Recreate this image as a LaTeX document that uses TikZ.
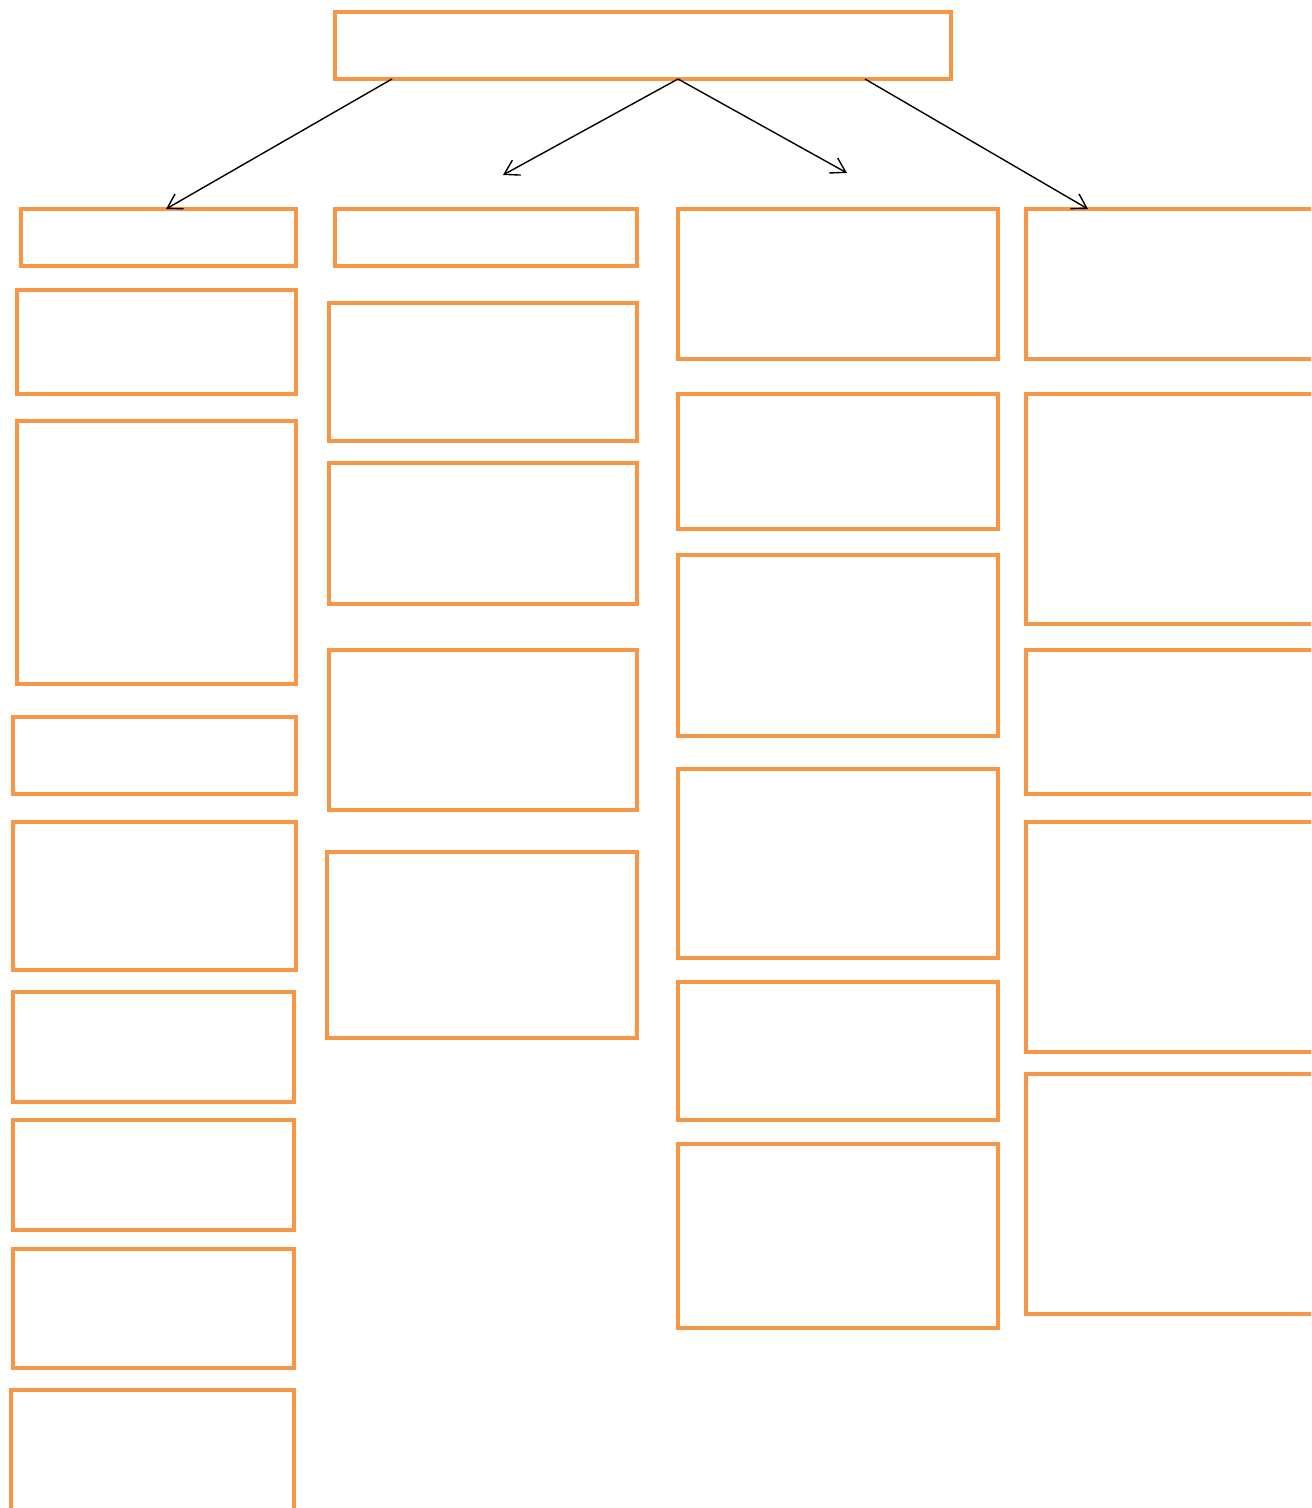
\documentclass[tikz,border=0pt]{standalone}
\usetikzlibrary{fit,arrows.meta,calc}
\definecolor{boxorange}{HTML}{F79646}
\tikzset{
  box/.style={draw=boxorange, line width=2pt, inner sep=0pt, outer sep=0pt, rectangle},
  link/.style={draw=black, line width=0.7pt, -{Straight Barb[length=7pt,width=8.5pt,line width=0.7pt]}}
}
\newcommand{\bx}[5]{\node[box, fit={(#2,#3)(#4,#5)}] (#1) {};}
\begin{document}
\begin{tikzpicture}[x=0.5pt,y=-0.5pt]
\useasboundingbox (0,0) rectangle (1311,1508);
\fill[white] (0,0) rectangle (1311,1508);
\clip (0,0) rectangle (1311,1508);
% top
\bx{top}{335}{12}{951}{79}
% column 1
\bx{a1}{21}{209}{296}{266}
\bx{a2}{17}{290}{296}{394}
\bx{a3}{17}{421}{296}{684}
\bx{a4}{13}{717}{296}{794}
\bx{a5}{13}{822}{296}{970}
\bx{a6}{13}{992}{294}{1102}
\bx{a7}{13}{1120}{294}{1230}
\bx{a8}{13}{1249}{294}{1368}
\bx{a9}{11}{1390}{294}{1540}
% column 2
\bx{b1}{335}{209}{637}{266}
\bx{b2}{329}{303}{637}{441}
\bx{b3}{329}{463}{637}{604}
\bx{b4}{329}{650}{637}{810}
\bx{b5}{327}{852}{637}{1038}
% column 3
\bx{c1}{678}{209}{998}{359}
\bx{c2}{678}{394}{998}{529}
\bx{c3}{678}{555}{998}{736}
\bx{c4}{678}{769}{998}{958}
\bx{c5}{678}{982}{998}{1120}
\bx{c6}{678}{1144}{998}{1328}
% column 4
\bx{d1}{1026}{209}{1345}{359}
\bx{d2}{1026}{394}{1345}{624}
\bx{d3}{1026}{650}{1345}{794}
\bx{d4}{1026}{822}{1345}{1052}
\bx{d5}{1026}{1074}{1345}{1314}
% connectors
\coordinate (s1) at (392,0 |- top.south);
\coordinate (s2) at (678,0 |- top.south);
\coordinate (s3) at (865,0 |- top.south);
\coordinate (e1) at (166,0 |- a1.north);
\coordinate (e2) at (503,175);
\coordinate (e3) at (847,173);
\coordinate (e4) at (1088,0 |- d1.north);
\draw[link] (s1) -- (e1);
\draw[link] (s2) -- (e2);
\draw[link] (s2) -- (e3);
\draw[link] (s3) -- (e4);
\end{tikzpicture}
\end{document}
